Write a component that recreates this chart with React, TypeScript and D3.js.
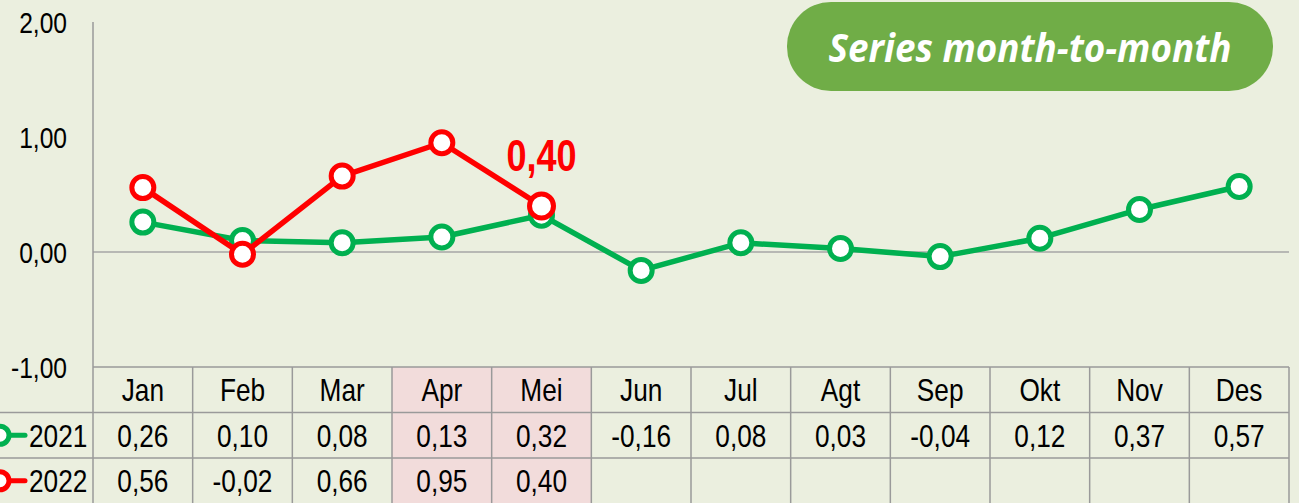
import React, { useEffect, useRef } from "react";
import * as d3 from "d3";

const months = ["Jan", "Feb", "Mar", "Apr", "Mei", "Jun", "Jul", "Agt", "Sep", "Okt", "Nov", "Des"];
const values2021 = [0.26, 0.1, 0.08, 0.13, 0.32, -0.16, 0.08, 0.03, -0.04, 0.12, 0.37, 0.57];
const values2022 = [0.56, -0.02, 0.66, 0.95, 0.4];
const yTicks = [-1, 0, 1, 2];
const highlighted = ["Apr", "Mei"];
const title = "Series month-to-month";

const width = 1299,
  height = 503;
const plot = { left: 93, right: 1289, top: 22, bottom: 367 };
const rowH = 45.5;

const font = "'Liberation Sans', Arial, sans-serif";
const squeeze = 0.82;
const bg = "#ebefdf";
const gridColor = "#9a9a9a";

const series = [
  { name: "2021", values: values2021, color: "#00b050" },
  { name: "2022", values: values2022, color: "#ff0000" },
];

const fmt = (v: number) => d3.format(".2f")(v).replace(".", ",").replace("−", "-");

// condensed text: regular font squeezed horizontally (no narrow face installed)
const narrowText = (
  g: any,
  x: number,
  y: number,
  str: string,
  size: number,
  anchor = "middle",
  dy = "0.36em"
) =>
  g
    .append("text")
    .attr("transform", `translate(${x},${y}) scale(${squeeze},1)`)
    .attr("dy", dy)
    .attr("text-anchor", anchor)
    .attr("font-family", font)
    .attr("font-size", size)
    .attr("fill", "#000")
    .text(str);

export default function App(): JSX.Element {
  const ref = useRef<SVGSVGElement>(null);

  useEffect(() => {
    if (!ref.current) return;
    const svg = d3.select(ref.current);
    svg.selectAll("*").remove();

    const x = d3.scaleBand().domain(months).range([plot.left, plot.right]);
    const y = d3.scaleLinear().domain([-1, 2]).range([plot.bottom, plot.top]);
    const cx = (m: string) => (x(m) as number) + x.bandwidth() / 2;

    svg.append("rect").attr("width", width).attr("height", height).attr("fill", bg);

    // highlighted columns
    svg
      .append("g")
      .selectAll("rect")
      .data(highlighted)
      .join("rect")
      .attr("x", (d) => x(d) as number)
      .attr("y", plot.bottom)
      .attr("width", x.bandwidth())
      .attr("height", height - plot.bottom)
      .attr("fill", "#f2dcdb");

    // zero line
    svg
      .append("line")
      .attr("x1", plot.left)
      .attr("x2", plot.right)
      .attr("y1", y(0))
      .attr("y2", y(0))
      .attr("stroke", "#a6a6a6")
      .attr("stroke-width", 1.5);

    // y tick labels
    const yg = svg.append("g");
    yTicks.forEach((t) => narrowText(yg, 67, y(t), fmt(t), 30, "end", "0.35em"));

    svg
      .append("line")
      .attr("x1", plot.left)
      .attr("x2", plot.left)
      .attr("y1", plot.top)
      .attr("y2", height)
      .attr("stroke", gridColor)
      .attr("stroke-width", 1.5);

    // table grid
    const grid = svg.append("g").attr("stroke", gridColor).attr("stroke-width", 1.5);
    grid.append("line").attr("x1", plot.left).attr("x2", plot.right).attr("y1", plot.bottom).attr("y2", plot.bottom);
    [1, 2].forEach((i) => {
      grid
        .append("line")
        .attr("x1", 0)
        .attr("x2", plot.right)
        .attr("y1", plot.bottom + i * rowH)
        .attr("y2", plot.bottom + i * rowH);
    });
    months.forEach((m) => {
      grid
        .append("line")
        .attr("x1", (x(m) as number) + x.bandwidth())
        .attr("x2", (x(m) as number) + x.bandwidth())
        .attr("y1", plot.bottom)
        .attr("y2", height);
    });

    // header
    const hg = svg.append("g");
    months.forEach((m) => narrowText(hg, cx(m), plot.bottom + rowH / 2, m, 32));

    // table values + legend
    series.forEach((s, si) => {
      const rowY = plot.bottom + (si + 1) * rowH + rowH / 2;
      const tg = svg.append("g");
      s.values.forEach((v, i) => narrowText(tg, cx(months[i]), rowY, fmt(v), 32));

      svg
        .append("line")
        .attr("x1", 4)
        .attr("x2", 25)
        .attr("y1", rowY)
        .attr("y2", rowY)
        .attr("stroke", s.color)
        .attr("stroke-width", 5)
        .attr("stroke-linecap", "round");
      svg
        .append("circle")
        .attr("cx", 0)
        .attr("cy", rowY)
        .attr("r", 9)
        .attr("fill", "#fff")
        .attr("stroke", s.color)
        .attr("stroke-width", 5);
      narrowText(svg, 29, rowY, s.name, 32, "start");
    });

    // lines
    const line = d3
      .line<number>()
      .x((d, i) => cx(months[i]))
      .y((d) => y(d));

    series.forEach((s) => {
      const g = svg.append("g");
      g.append("path")
        .datum(s.values)
        .attr("d", line)
        .attr("fill", "none")
        .attr("stroke", s.color)
        .attr("stroke-width", 5.5)
        .attr("stroke-linejoin", "round");
      g.selectAll("circle")
        .data(s.values)
        .join("circle")
        .attr("cx", (d, i) => cx(months[i]))
        .attr("cy", (d) => y(d))
        .attr("r", (d, i) => (s.name === "2022" && i === s.values.length - 1 ? 12 : 11))
        .attr("fill", "#fff")
        .attr("stroke", s.color)
        .attr("stroke-width", 5);
    });

    // last value label
    const last = values2022.length - 1;
    narrowText(svg, cx(months[last]), y(values2022[last]) - 35, fmt(values2022[last]), 44, "middle", "0")
      .attr("font-weight", "bold")
      .attr("fill", "#ff0000");

    // title badge
    svg
      .append("rect")
      .attr("x", 787)
      .attr("y", 2)
      .attr("width", 486)
      .attr("height", 89)
      .attr("rx", 44)
      .attr("fill", "#70ad47");
    svg
      .append("text")
      .attr("x", 1030)
      .attr("y", 62)
      .attr("text-anchor", "middle")
      .attr("font-family", "'Open Sans', sans-serif")
      .attr("font-style", "italic")
      .attr("font-weight", "bold")
      .attr("font-size", 39)
      .attr("textLength", 403)
      .attr("lengthAdjust", "spacingAndGlyphs")
      .attr("fill", "#fff")
      .text(title);
  }, []);

  return (
    <div style={{ position: "absolute", left: 0, top: 0 }}>
      <svg ref={ref} width={width} height={height} style={{ display: "block" }} />
    </div>
  );
}
